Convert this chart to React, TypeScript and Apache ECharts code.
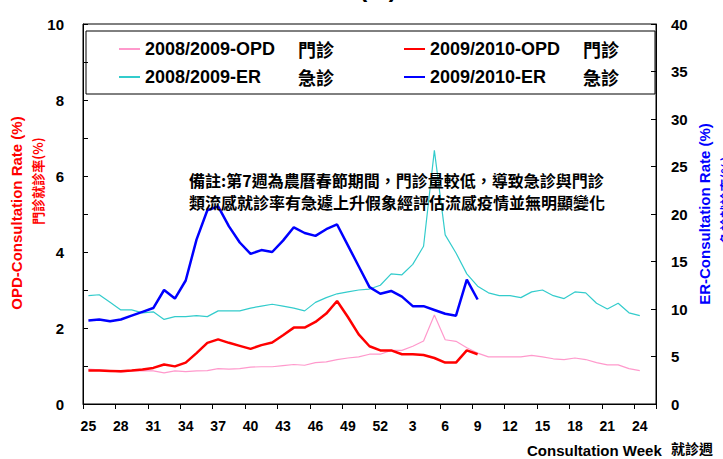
import React, { useEffect, useRef } from "react";
import * as echarts from "echarts";

const weeks: string[] = [
  "25", "26", "27", "28", "29", "30", "31", "32", "33", "34", "35", "36", "37", "38",
  "39", "40", "41", "42", "43", "44", "45", "46", "47", "48", "49", "50", "51", "52",
  "1", "2", "3", "4", "5", "6", "7", "8", "9", "10", "11", "12", "13", "14", "15",
  "16", "17", "18", "19", "20", "21", "22", "23", "24", "25",
];

const opd0809: (number | null)[] = [
  0.92, 0.9, 0.88, 0.84, 0.87, 0.88, 0.87, 0.82, 0.87, 0.85, 0.87, 0.88, 0.93, 0.92,
  0.93, 0.97, 0.98, 0.98, 1.01, 1.04, 1.02, 1.09, 1.11, 1.17, 1.21, 1.24, 1.31, 1.31,
  1.41, 1.41, 1.52, 1.66, 2.34, 1.69, 1.65, 1.48, 1.34, 1.24, 1.24, 1.24, 1.24, 1.28,
  1.24, 1.19, 1.17, 1.21, 1.17, 1.09, 1.03, 1.03, 0.93, 0.88, null,
];

const er0809: (number | null)[] = [
  11.4, 11.5, 10.7, 9.9, 9.9, 9.6, 9.7, 8.9, 9.2, 9.2, 9.3, 9.2, 9.8, 9.8,
  9.8, 10.1, 10.3, 10.5, 10.3, 10.1, 9.8, 10.7, 11.2, 11.6, 11.8, 12.0, 12.1, 12.5,
  13.7, 13.6, 14.7, 16.6, 26.7, 17.8, 15.9, 13.7, 12.4, 11.7, 11.4, 11.4, 11.2, 11.8,
  12.0, 11.4, 11.1, 11.8, 11.7, 10.6, 10.0, 10.6, 9.6, 9.3, null,
];

const opd0910: number[] = [
  0.88, 0.88, 0.87, 0.86, 0.88, 0.91, 0.95, 1.04, 0.99, 1.09, 1.34, 1.61, 1.7, 1.61,
  1.53, 1.45, 1.55, 1.62, 1.81, 2.01, 2.01, 2.16, 2.38, 2.71, 2.29, 1.83, 1.52, 1.41,
  1.41, 1.31, 1.31, 1.29, 1.21, 1.09, 1.09, 1.41, 1.31,
];

const er0910: number[] = [
  8.8, 8.9, 8.7, 8.9, 9.3, 9.7, 10.1, 12.0, 11.1, 13.0, 17.3, 20.4, 20.8, 18.7,
  17.0, 15.8, 16.2, 16.0, 17.2, 18.6, 18.0, 17.7, 18.4, 18.9, 16.7, 14.5, 12.3, 11.6,
  11.9, 11.3, 10.3, 10.3, 9.9, 9.5, 9.3, 13.1, 11.0,
];

const seriesNames = [
  "2008/2009-OPD 門診",
  "2009/2010-OPD 門診",
  "2008/2009-ER 急診",
  "2009/2010-ER 急診",
];

const noteLines = [
  "備註:第7週為農曆春節期間，門診量較低，導致急診與門診",
  "類流感就診率有急遽上升假象經評估流感疫情並無明顯變化",
];

const LATIN = "Arial, 'Liberation Sans', 'Noto Sans CJK TC', sans-serif";
const CJK = "'Noto Sans CJK TC', 'Noto Sans CJK SC', sans-serif";

export default function App() {
  const ref = useRef<HTMLDivElement>(null);

  useEffect(() => {
    if (!ref.current) return;
    const chart = echarts.init(ref.current, null, { renderer: "svg" });

    const legendBase = {
      orient: "vertical",
      top: 40,
      padding: 0,
      itemGap: 10,
      itemWidth: 21,
      itemHeight: 2,
      icon: "rect",
      formatter: (name: string) => {
        const i = name.lastIndexOf(" ");
        return `{a|${name.slice(0, i)}}{b|${name.slice(i + 1)}}`;
      },
      textStyle: {
        rich: {
          a: { width: 153, fontSize: 18, fontWeight: "bold", fontFamily: LATIN, color: "#000", lineHeight: 20 },
          b: { fontSize: 18, fontWeight: "bold", fontFamily: CJK, color: "#000", lineHeight: 20 },
        },
      },
    };

    chart.setOption({
      animation: false,
      backgroundColor: "#fff",
      grid: {
        left: 83,
        right: 67,
        top: 24,
        bottom: 55,
        show: true,
        borderColor: "#000",
        borderWidth: 1,
        backgroundColor: "#fff",
      },
      legend: [
        { ...legendBase, left: 119, data: [seriesNames[0], seriesNames[2]] },
        { ...legendBase, left: 404, data: [seriesNames[1], seriesNames[3]] },
      ],
      xAxis: {
        type: "category",
        data: weeks,
        boundaryGap: true,
        axisLine: { lineStyle: { color: "#000", width: 1 } },
        axisTick: { show: true, interval: 2, inside: false, length: 5, lineStyle: { color: "#000" } },
        axisLabel: {
          interval: 2,
          color: "#000",
          fontSize: 14,
          fontWeight: "bold",
          fontFamily: LATIN,
          margin: 15,
        },
        splitLine: { show: false },
      },
      yAxis: [
        {
          type: "value",
          position: "left",
          min: 0,
          max: 10,
          interval: 1,
          axisLine: { show: true, lineStyle: { color: "#000", width: 1 } },
          axisTick: { show: true, inside: true, length: 5, lineStyle: { color: "#000" } },
          axisLabel: {
            formatter: (v: number) => (v % 2 === 0 ? String(v) : ""),
            color: "#000",
            fontSize: 15,
            fontWeight: "bold",
            fontFamily: LATIN,
            margin: 19,
          },
          splitLine: { show: false },
        },
        {
          type: "value",
          position: "right",
          min: 0,
          max: 40,
          interval: 5,
          axisLine: { show: true, lineStyle: { color: "#000", width: 1 } },
          axisTick: { show: true, inside: true, length: 5, lineStyle: { color: "#000" } },
          axisLabel: {
            color: "#000",
            fontSize: 15,
            fontWeight: "bold",
            fontFamily: LATIN,
            margin: 15,
          },
          splitLine: { show: false },
        },
      ],
      series: [
        {
          name: seriesNames[0],
          type: "line",
          yAxisIndex: 0,
          data: opd0809,
          symbol: "none",
          color: "#FF99CC",
          lineStyle: { width: 1.2, color: "#FF99CC" },
        },
        {
          name: seriesNames[2],
          type: "line",
          yAxisIndex: 1,
          data: er0809,
          symbol: "none",
          color: "#33CCCC",
          lineStyle: { width: 1.2, color: "#33CCCC" },
        },
        {
          name: seriesNames[1],
          type: "line",
          yAxisIndex: 0,
          data: opd0910,
          symbol: "none",
          color: "#FF0000",
          lineStyle: { width: 2.5, color: "#FF0000" },
        },
        {
          name: seriesNames[3],
          type: "line",
          yAxisIndex: 1,
          data: er0910,
          symbol: "none",
          color: "#0000FF",
          lineStyle: { width: 2.5, color: "#0000FF" },
        },
      ],
      graphic: [
        {
          type: "rect",
          shape: { x: 86, y: 31, width: 569, height: 63 },
          style: { fill: "none", stroke: "#000", lineWidth: 1 },
          z: 1,
        },
        {
          type: "text",
          x: 378,
          y: 0.5,
          style: {
            text: "(%)",
            fontSize: 24,
            fontWeight: "bold",
            fontFamily: LATIN,
            fill: "#000",
            textAlign: "center",
            textVerticalAlign: "bottom",
          },
        },
        {
          type: "text",
          x: 189,
          y: 179.5,
          style: {
            text: noteLines[0],
            fontSize: 16,
            fontWeight: "bold",
            fontFamily: CJK,
            fill: "#000",
            textAlign: "left",
            textVerticalAlign: "middle",
          },
          z: 10,
        },
        {
          type: "text",
          x: 189,
          y: 201.5,
          style: {
            text: noteLines[1],
            fontSize: 16,
            fontWeight: "bold",
            fontFamily: CJK,
            fill: "#000",
            textAlign: "left",
            textVerticalAlign: "middle",
          },
          z: 10,
        },
        {
          type: "text",
          x: 16,
          y: 213,
          rotation: Math.PI / 2,
          style: {
            text: "OPD-Consultation Rate (%)",
            fontSize: 15,
            fontWeight: "bold",
            fontFamily: LATIN,
            fill: "#FF0000",
            textAlign: "center",
            textVerticalAlign: "middle",
          },
        },
        {
          type: "text",
          x: 37,
          y: 181,
          rotation: Math.PI / 2,
          style: {
            text: "門診就診率(%)",
            fontSize: 13,
            fontWeight: "bold",
            fontFamily: CJK,
            fill: "#FF0000",
            textAlign: "center",
            textVerticalAlign: "middle",
          },
        },
        {
          type: "text",
          x: 704,
          y: 214,
          rotation: Math.PI / 2,
          style: {
            text: "ER-Consultation Rate (%)",
            fontSize: 15,
            fontWeight: "bold",
            fontFamily: LATIN,
            fill: "#0000FF",
            textAlign: "center",
            textVerticalAlign: "middle",
          },
        },
        {
          type: "text",
          x: 725,
          y: 200,
          rotation: Math.PI / 2,
          style: {
            text: "急診就診率(%)",
            fontSize: 13,
            fontWeight: "bold",
            fontFamily: CJK,
            fill: "#0000FF",
            textAlign: "center",
            textVerticalAlign: "middle",
          },
        },
        {
          type: "text",
          x: 527,
          y: 450,
          style: {
            text: "Consultation Week",
            fontSize: 15,
            fontWeight: "bold",
            fontFamily: LATIN,
            fill: "#000",
            textAlign: "left",
            textVerticalAlign: "middle",
          },
        },
        {
          type: "text",
          x: 671,
          y: 448,
          style: {
            text: "就診週",
            fontSize: 14,
            fontWeight: "bold",
            fontFamily: CJK,
            fill: "#000",
            textAlign: "left",
            textVerticalAlign: "middle",
          },
        },
      ],
    });

    return () => chart.dispose();
  }, []);

  return (
    <div
      ref={ref}
      style={{ position: "absolute", left: 0, top: 0, width: 723, height: 459 }}
    />
  );
}
